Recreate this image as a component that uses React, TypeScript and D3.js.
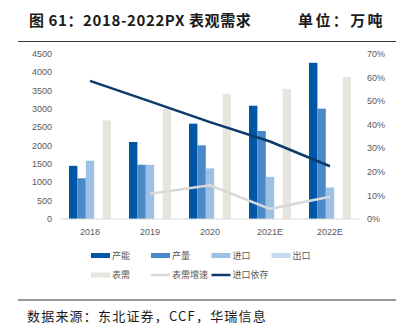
import React from "react";
import * as d3 from "d3";

const categories = ["2018", "2019", "2020", "2021E", "2022E"];
const capacity = [1450, 2100, 2600, 3090, 4260];
const output = [1110, 1480, 2010, 2400, 3010];
const imports = [1590, 1480, 1380, 1150, 860];
const exportsV = [0, 0, 0, 0, 0];
const demand = [2690, 3010, 3410, 3550, 3870];
const demandGrowth: (number | null)[] = [null, 0.107, 0.143, 0.043, 0.094];
const importDependence = [0.586, 0.499, 0.411, 0.329, 0.224];
const leftTicks = [0, 500, 1000, 1500, 2000, 2500, 3000, 3500, 4000, 4500];
const rightTicks = [0, 0.1, 0.2, 0.3, 0.4, 0.5, 0.6, 0.7];

const barSeries = [
  { name: "产能", values: capacity, color: "#0057A8" },
  { name: "产量", values: output, color: "#4A89C8" },
  { name: "进口", values: imports, color: "#9DC1E3" },
  { name: "出口", values: exportsV, color: "#C9DCEF" },
  { name: "表需", values: demand, color: "#E8E5DF" },
];
const lineSeries = [
  { name: "表需增速", values: demandGrowth, color: "#D9D9D9" },
  { name: "进口依存", values: importDependence as (number | null)[], color: "#0C3B6C" },
];

export default function App() {
  const W = 403, H = 334;
  const x = d3.scaleBand<string>().domain(categories).range([60, 360]).padding(0);
  const inner = d3
    .scaleBand<string>()
    .domain(barSeries.map((s) => s.name))
    .range([0, x.bandwidth()])
    .paddingInner(0)
    .paddingOuter(1.07);
  const yL = d3.scaleLinear().domain([0, 4500]).range([219, 54]);
  const yR = d3.scaleLinear().domain([0, 0.7]).range([219, 54]);
  const fmtPct = d3.format(".0%");
  const tickColor = "#595959";
  const tickFont = "'Liberation Sans', Arial, sans-serif";
  const cjk = "'Noto Sans CJK SC', sans-serif";

  const lineGen = d3
    .line<number | null>()
    .defined((d) => d != null)
    .x((_, i) => (x(categories[i]) as number) + x.bandwidth() / 2)
    .y((d) => yR(d as number));

  const legendItems = [
    { name: "产能", kind: "bar", color: barSeries[0].color, x: 91, y: 255.5 },
    { name: "产量", kind: "bar", color: barSeries[1].color, x: 151, y: 255.5 },
    { name: "进口", kind: "bar", color: barSeries[2].color, x: 211.5, y: 255.5 },
    { name: "出口", kind: "bar", color: barSeries[3].color, x: 271.5, y: 255.5 },
    { name: "表需", kind: "bar", color: barSeries[4].color, x: 91, y: 275 },
    { name: "表需增速", kind: "line", color: lineSeries[0].color, x: 151, y: 275 },
    { name: "进口依存", kind: "line", color: lineSeries[1].color, x: 211.5, y: 275 },
  ];

  return (
    <svg width={W} height={H} style={{ position: "absolute", left: 0, top: 0, background: "#fff" }}>
      <rect width={W} height={H} fill="#fff" />
      <text x={29} y={26} fontFamily={cjk} fontWeight="bold" fontSize={15} letterSpacing={0.6} fill="#1a1a1a" xmlSpace="preserve">
        图 61：2018-2022PX 表观需求
      </text>
      <text x={298} y={26} fontFamily={cjk} fontWeight="bold" fontSize={15} letterSpacing={2.4} fill="#1a1a1a">
        单位：万吨
      </text>
      <line x1={18} x2={396} y1={41.5} y2={41.5} stroke="#333" strokeWidth={1} />

      {leftTicks.map((t) => (
        <text key={t} x={52} y={yL(t)} dy="0.35em" textAnchor="end" fontFamily={tickFont} fontSize={9} fill={tickColor}>
          {t}
        </text>
      ))}
      {rightTicks.map((t) => (
        <text key={t} x={367} y={yR(t)} dy="0.35em" textAnchor="start" fontFamily={tickFont} fontSize={9} fill={tickColor}>
          {fmtPct(t)}
        </text>
      ))}

      {barSeries.map((s) =>
        s.values.map((v, i) => (
          <rect
            key={s.name + i}
            x={(x(categories[i]) as number) + (inner(s.name) as number)}
            y={yL(v)}
            width={inner.bandwidth()}
            height={yL(0) - yL(v)}
            fill={s.color}
          />
        ))
      )}
      <line x1={60} x2={360} y1={219} y2={219} stroke="#D9D9D9" strokeWidth={1} />

      {lineSeries.map((s) => (
        <path key={s.name} d={lineGen(s.values) || ""} fill="none" stroke={s.color} strokeWidth={2.6} />
      ))}

      {categories.map((c) => (
        <text key={c} x={(x(c) as number) + x.bandwidth() / 2} y={232} dy="0.35em" textAnchor="middle" fontFamily={tickFont} fontSize={9} fill={tickColor}>
          {c}
        </text>
      ))}

      {legendItems.map((it) => (
        <g key={it.name}>
          {it.kind === "bar" ? (
            <rect x={it.x} y={it.y - 2.5} width={19} height={5} fill={it.color} />
          ) : (
            <line x1={it.x} x2={it.x + 19} y1={it.y} y2={it.y} stroke={it.color} strokeWidth={2.5} />
          )}
          <text x={it.x + 21} y={it.y} dy="0.35em" fontFamily={cjk} fontSize={9} fill={tickColor}>
            {it.name}
          </text>
        </g>
      ))}

      <line x1={18} x2={396} y1={300} y2={300} stroke="#333" strokeWidth={1} />
      <text x={27} y={321} fontFamily={cjk} fontSize={13} letterSpacing={1.2} fill="#1a1a1a">
        数据来源：东北证券，CCF，华瑞信息
      </text>
    </svg>
  );
}
